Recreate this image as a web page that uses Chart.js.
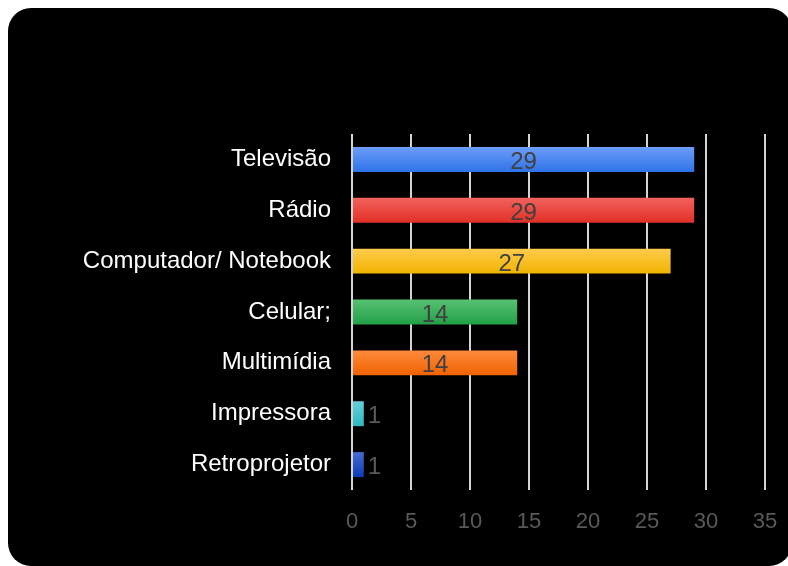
<!DOCTYPE html>
<html>
<head>
<meta charset="utf-8">
<script src="https://cdn.jsdelivr.net/npm/chart.js@4/dist/chart.umd.min.js"></script>
<style>
  html, body { margin: 0; padding: 0; background: #ffffff; }
  #wrap { width: 788px; height: 566px; position: relative; }
</style>
</head>
<body>
<div id="wrap"><canvas id="equipamentos"></canvas></div>
<script>
// itens e quantidades
var categorias = ['Televisão', 'Rádio', 'Computador/ Notebook', 'Celular;', 'Multimídia', 'Impressora', 'Retroprojetor'];
var quantidades = [29, 29, 27, 14, 14, 1, 1];
var ticksX = [0, 5, 10, 15, 20, 25, 30, 35];

// cores de cada barra (topo / base do degradê)
var corTopo = ['#6c9ef9', '#f2625c', '#ffcb4c', '#58c172', '#ff8a3c', '#64d0d8', '#4a6ad0'];
var corBase = ['#2f72e8', '#e12f26', '#f1b400', '#22a047', '#f06200', '#2fb8c2', '#0a3db8'];

var fonte = '"Liberation Sans", Arial, sans-serif';

// fundo preto com cantos arredondados
var fundo = {
    id: 'fundo',
    beforeDraw: function (chart) {
        var ctx = chart.ctx;
        ctx.save();
        ctx.fillStyle = '#000000';
        ctx.beginPath();
        ctx.roundRect(8, 8, 784, 558, 23);
        ctx.fill();
        ctx.restore();
    }
};

// escreve o valor em cada barra
var rotulos = {
    id: 'rotulos',
    afterDatasetsDraw: function (chart) {
        var ctx = chart.ctx;
        var meta = chart.getDatasetMeta(0);
        ctx.save();
        ctx.font = '24px ' + fonte;
        ctx.textBaseline = 'middle';
        meta.data.forEach(function (bar, i) {
            var v = quantidades[i];
            if (v >= 5) {
                ctx.fillStyle = '#404040';
                ctx.textAlign = 'center';
                ctx.fillText(String(v), (bar.x + bar.base) / 2, bar.y + 3);
            } else {
                ctx.fillStyle = '#595959';
                ctx.textAlign = 'left';
                ctx.fillText(String(v), bar.x + 4, bar.y + 3);
            }
        });
        ctx.restore();
    }
};

function degrade(context) {
    var chart = context.chart;
    var i = context.dataIndex;
    if (!chart.chartArea || !chart.scales.y) return corBase[i];
    var yc = chart.scales.y.getPixelForValue(i);
    var g = chart.ctx.createLinearGradient(0, yc - 12.5, 0, yc + 12.5);
    g.addColorStop(0, corTopo[i]);
    g.addColorStop(1, corBase[i]);
    return g;
}

new Chart(document.getElementById('equipamentos'), {
    type: 'bar',
    data: {
        labels: categorias,
        datasets: [{
            label: 'Quantidade',
            data: quantidades,
            backgroundColor: degrade,
            borderWidth: 0,
            barPercentage: 0.49,
            categoryPercentage: 1
        }]
    },
    options: {
        indexAxis: 'y',
        responsive: true,
        maintainAspectRatio: false,
        animation: false,
        layout: { padding: { left: 8, top: 134, right: 23, bottom: 26 } },
        plugins: {
            legend: { display: false },
            tooltip: { enabled: false }
        },
        scales: {
            x: {
                min: 0,
                max: 35,
                afterBuildTicks: function (axis) {
                    axis.ticks = ticksX.map(function (v) { return { value: v }; });
                },
                afterFit: function (axis) {
                    axis.height = 50;
                    axis.paddingLeft = 0;
                    axis.paddingRight = 0;
                },
                grid: { color: '#d4d4d4', lineWidth: 2, drawTicks: false },
                border: { display: false },
                ticks: {
                    color: '#595959',
                    padding: 19,
                    maxRotation: 0,
                    font: { family: fonte, size: 22 }
                }
            },
            y: {
                afterFit: function (axis) { axis.width = 344; },
                grid: { display: false, drawTicks: false },
                border: { display: false },
                ticks: {
                    color: '#ffffff',
                    padding: 21,
                    font: { family: fonte, size: 24 }
                }
            }
        }
    },
    plugins: [fundo, rotulos]
});
</script>
</body>
</html>
